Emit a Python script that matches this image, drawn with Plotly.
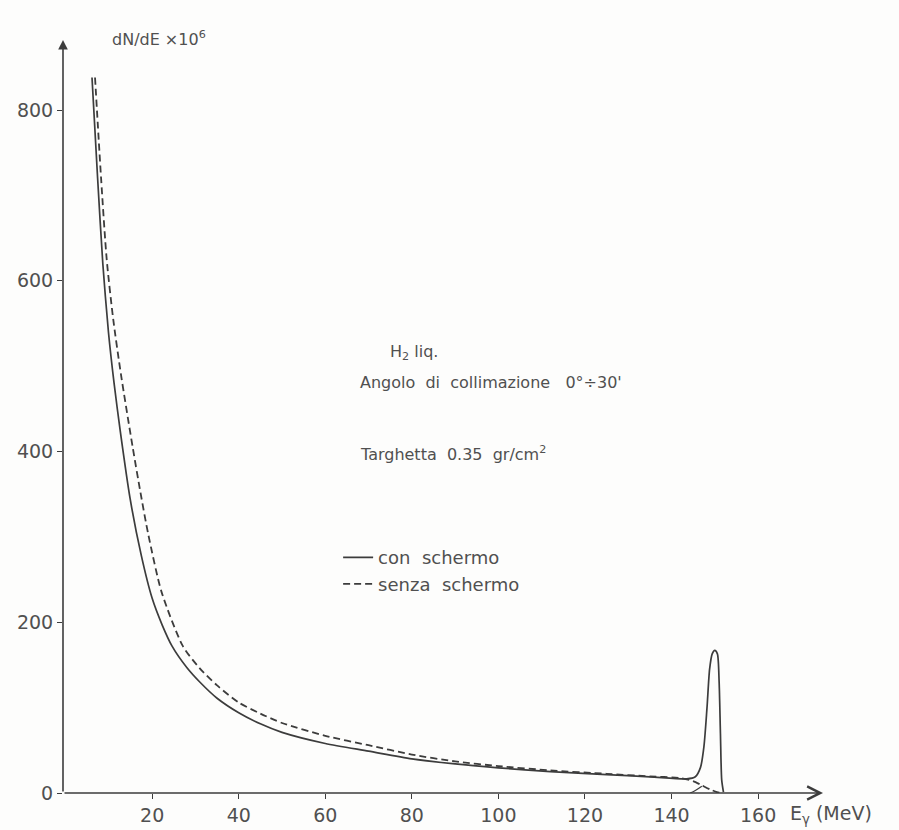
import plotly.graph_objects as go

# Photon energy spectrum dN/dE (x10^6) vs E_gamma (MeV)
con_x = [6.1, 7.4, 8.6, 9.9, 11.2, 12.6, 14.9, 17.5, 20, 22.3, 24.6, 28, 31, 35, 40, 45, 50,
         60, 70, 80, 90, 100, 112, 125, 135, 143.5, 145.5, 146.7, 147.5, 148.2, 148.8,
         149.4, 150, 150.6, 151, 151.3, 151.6, 152]
con_y = [838, 720, 620, 540, 480, 425, 345, 278, 228, 197, 172, 147, 130, 111, 94, 81, 71,
         58, 49, 40, 34, 29.5, 25, 21.5, 19, 16.5, 19, 30, 55, 100, 145,
         163, 167, 163, 130, 70, 15, 1]

senza_x = [6.8, 8.2, 9.5, 11, 12.8, 15.5, 17.3, 19.1, 22.2, 27.1, 31, 35, 40, 45, 50, 60, 70,
           80, 90, 100, 112, 125, 135, 142, 145, 147, 149, 150.5, 151.5]
senza_y = [838, 720, 625, 555, 490, 405, 352, 303, 235, 172, 146, 126, 106, 93, 82, 67, 56,
           45, 37, 31.5, 26.5, 22.5, 19.5, 17.5, 14, 9, 4, 1, 0]

# small rising foot under the peak
foot_x = [144.3, 145.5, 147]
foot_y = [0, 3, 8]

x_ticks = [20, 40, 60, 80, 100, 120, 140, 160]
x_labels = ["20", "40", "60", "80", "100", "120", "140", "160"]
y_ticks = [0, 200, 400, 600, 800]
y_labels = ["0", "200", "400", "600", "800"]

ink = "#3c3c3c"
txt = "#505050"
font = "DejaVu Sans"

fig = go.Figure()
fig.add_trace(go.Scatter(x=con_x, y=con_y, mode="lines", name="con  schermo",
                         line=dict(color=ink, width=1.7, shape="spline", smoothing=0.7)))
fig.add_trace(go.Scatter(x=senza_x, y=senza_y, mode="lines", name="senza  schermo",
                         line=dict(color=ink, width=1.8, dash="7px,4px", shape="spline",
                                   smoothing=0.7)))
fig.add_trace(go.Scatter(x=foot_x, y=foot_y, mode="lines", showlegend=False,
                         line=dict(color=ink, width=1.2, shape="spline")))

x_min, x_max = -0.6, 175
y_max = 882

# axes drawn as arrows
fig.add_annotation(x=x_max, y=0, ax=x_min, ay=0, xref="x", yref="y", axref="x", ayref="y",
                   showarrow=True, arrowhead=5, arrowsize=1.6, arrowwidth=1.6,
                   arrowcolor=ink, text="")
fig.add_annotation(x=x_min, y=y_max, ax=x_min, ay=0, xref="x", yref="y", axref="x", ayref="y",
                   showarrow=True, arrowhead=2, arrowsize=1.2, arrowwidth=1.6,
                   arrowcolor=ink, text="")

fig.add_annotation(x=167.0, y=0, xref="x", yref="y", xanchor="left", yanchor="middle",
                   yshift=-21, showarrow=False, text="E<sub>γ</sub> (MeV)",
                   font=dict(family=font, size=19, color=txt))
fig.add_annotation(x=10.3, y=y_max, xref="x", yref="y", xanchor="left", yanchor="middle",
                   yshift=2, showarrow=False, text="dN/dE ×10<sup>6</sup>",
                   font=dict(family=font, size=16, color=txt))
fig.add_annotation(x=74.5, y=516, xref="x", yref="y", xanchor="left", yanchor="middle",
                   showarrow=False, text="H<sub>2</sub> liq.",
                   font=dict(family=font, size=16, color=txt))
fig.add_annotation(x=67.5, y=481, xref="x", yref="y", xanchor="left", yanchor="middle",
                   showarrow=False, text="Angolo  di  collimazione   0°÷30'",
                   font=dict(family=font, size=16, color=txt))
fig.add_annotation(x=67.5, y=398, xref="x", yref="y", xanchor="left", yanchor="middle",
                   showarrow=False, text="Targhetta  0.35  gr/cm<sup>2</sup>",
                   font=dict(family=font, size=16, color=txt))

fig.update_layout(
    width=899, height=830,
    margin=dict(l=63, r=76, t=40, b=37, autoexpand=False),
    paper_bgcolor="#fdfdfc", plot_bgcolor="#fdfdfc",
    showlegend=True,
    legend=dict(x=0.362, y=0.337, xanchor="left", yanchor="top",
                bgcolor="rgba(0,0,0,0)", font=dict(family=font, size=18, color=txt),
                itemwidth=30, tracegroupgap=0),
    xaxis=dict(range=[x_min, x_max], tickvals=x_ticks, ticktext=x_labels,
               showgrid=False, zeroline=False, showline=False, automargin=False,
               ticks="outside", ticklen=5, tickcolor=ink, tickwidth=1.4,
               tickfont=dict(family=font, size=19, color=txt)),
    yaxis=dict(range=[0, y_max], tickvals=y_ticks, ticktext=y_labels,
               showgrid=False, zeroline=False, showline=False, automargin=False,
               ticks="outside", ticklen=5, tickcolor=ink, tickwidth=1.4,
               tickfont=dict(family=font, size=19, color=txt)),
)

fig.write_html("out.html")
